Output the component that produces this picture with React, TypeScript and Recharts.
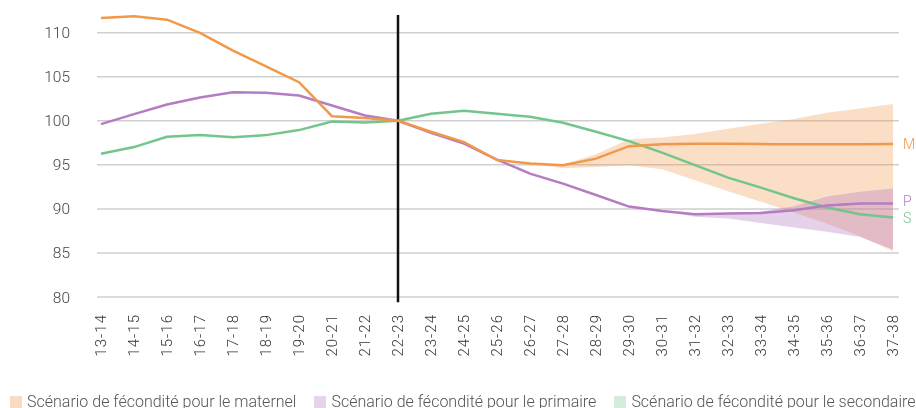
import React from "react";
import {
  ComposedChart,
  Line,
  Area,
  XAxis,
  YAxis,
  CartesianGrid,
  ReferenceLine,
} from "recharts";

// ---------------------------------------------------------------------------
// Data (indices base 100 en 22-23)
// ---------------------------------------------------------------------------

const years = [
  "13-14", "14-15", "15-16", "16-17", "17-18", "18-19", "19-20", "20-21",
  "21-22", "22-23", "23-24", "24-25", "25-26", "26-27", "27-28", "28-29",
  "29-30", "30-31", "31-32", "32-33", "33-34", "34-35", "35-36", "36-37",
  "37-38",
];

const maternel = [
  111.66, 111.85, 111.47, 109.97, 107.96, 106.18, 104.37, 100.52, 100.3, 100,
  98.75, 97.58, 95.54, 95.16, 94.94, 95.7, 97.12, 97.32, 97.38, 97.38, 97.35,
  97.32, 97.32, 97.32, 97.35,
];

const primaire = [
  99.62, 100.75, 101.85, 102.64, 103.24, 103.17, 102.87, 101.73, 100.6, 100,
  98.64, 97.4, 95.6, 94.0, 92.87, 91.57, 90.26, 89.76, 89.39, 89.47, 89.54,
  89.84, 90.37, 90.6, 90.6,
];

const secondaire = [
  96.26, 97.01, 98.19, 98.37, 98.14, 98.37, 98.94, 99.92, 99.8, 100, 100.79,
  101.13, 100.79, 100.45, 99.77, 98.75, 97.69, 96.38, 94.97, 93.54, 92.41,
  91.2, 90.15, 89.39, 89.01,
];

// scenario bands, starting at "26-27" for maternel and "30-31" for primaire
const maternelBandStart = 13;
const maternelLow = [95.16, 94.6, 94.75, 94.95, 94.5, 93.25, 92.0, 90.8, 89.6, 88.3, 86.9, 85.2];
const maternelHigh = [95.16, 95.0, 96.2, 97.9, 98.1, 98.5, 99.1, 99.65, 100.2, 100.9, 101.4, 101.9];

const primaireBandStart = 17;
const primaireLow = [89.76, 89.1, 88.9, 88.4, 87.9, 87.4, 86.8, 85.4];
const primaireHigh = [89.76, 89.45, 89.55, 89.7, 90.3, 91.4, 91.95, 92.3];

const yTicks = [80, 85, 90, 95, 100, 105, 110];

// ---------------------------------------------------------------------------
// Colors
// ---------------------------------------------------------------------------

const ORANGE = "#f0994a";
const PURPLE = "#b47cc2";
const GREEN = "#73c58e";

const FONT = "Roboto, sans-serif";

const data = years.map((year, i) => {
  const mi = i - maternelBandStart;
  const pi = i - primaireBandStart;
  return {
    year,
    maternel: maternel[i],
    primaire: primaire[i],
    secondaire: secondaire[i],
    mBand: mi >= 0 ? [maternelLow[mi], maternelHigh[mi]] : undefined,
    pBand: pi >= 0 ? [primaireLow[pi], primaireHigh[pi]] : undefined,
  };
});

const lastIndex = years.length - 1;

function XTick({ x, y, payload }: { x?: number; y?: number; payload?: { value: string } }) {
  return (
    <g transform={`translate(${x},${y})`}>
      <text
        transform="rotate(-90)"
        x={-11}
        y={0}
        dy="0.36em"
        textAnchor="end"
        fill="#333"
        fontSize={15}
        fontFamily={FONT}
        fontWeight={300}
        letterSpacing={1}
      >
        {payload?.value}
      </text>
    </g>
  );
}

function endLabel(letter: string, color: string, shift: number) {
  return (props: { x?: number; y?: number; index?: number }) => {
    if (props.index !== lastIndex) return <g />;
    return (
      <text
        x={(props.x ?? 0) + 10}
        y={(props.y ?? 0) + shift}
        dy="0.36em"
        fill={color}
        fontSize={14}
        fontFamily={FONT}
        fontWeight={300}
      >
        {letter}
      </text>
    );
  };
}

const legendItems = [
  { label: "Scénario de fécondité pour le maternel", color: "#f9dcc3" },
  { label: "Scénario de fécondité pour le primaire", color: "#e6d4ea" },
  { label: "Scénario de fécondité pour le secondaire", color: "#d5ecdc" },
];

export default function App() {
  return (
    <div
      style={{
        position: "fixed",
        left: 8,
        top: 8,
        width: 908,
        height: 400,
        overflow: "hidden",
        fontFamily: FONT,
      }}
    >
      <ComposedChart
        width={908}
        height={350}
        data={data}
        margin={{ top: 7, right: 17, bottom: 0, left: 0 }}
      >
        <CartesianGrid
          vertical={false}
          horizontalValues={yTicks}
          stroke="#cfcfcf"
          strokeWidth={1.5}
        />
        <XAxis
          dataKey="year"
          interval={0}
          height={61}
          axisLine={false}
          tickLine={false}
          tickMargin={0}
          padding={{ left: 4, right: 6 }}
          tick={<XTick />}
        />
        <YAxis
          domain={[80, 112]}
          ticks={yTicks}
          width={89}
          tickSize={0}
          tickMargin={27}
          axisLine={false}
          tickLine={false}
          tick={{ fill: "#444", fontSize: 15.5, fontFamily: FONT, fontWeight: 300 }}
        />
        <Area
          dataKey="mBand"
          stroke="none"
          fill={ORANGE}
          fillOpacity={0.32}
          isAnimationActive={false}
          connectNulls={false}
        />
        <Area
          dataKey="pBand"
          stroke="none"
          fill={PURPLE}
          fillOpacity={0.35}
          isAnimationActive={false}
          connectNulls={false}
        />
        <ReferenceLine
          segment={[
            { x: "22-23", y: 112 },
            { x: "22-23", y: 79.4 },
          ]}
          stroke="#111"
          strokeWidth={2.5}
          ifOverflow="visible"
        />
        <Line
          dataKey="secondaire"
          stroke={GREEN}
          strokeWidth={2.5}
          dot={false}
          isAnimationActive={false}
          label={endLabel("S", GREEN, 0)}
        />
        <Line
          dataKey="primaire"
          stroke={PURPLE}
          strokeWidth={2.5}
          dot={false}
          isAnimationActive={false}
          label={endLabel("P", PURPLE, -3)}
        />
        <Line
          dataKey="maternel"
          stroke={ORANGE}
          strokeWidth={2.5}
          dot={false}
          isAnimationActive={false}
          label={endLabel("M", ORANGE, 0)}
        />
      </ComposedChart>

      {/* Legend */}
      <div
        style={{
          display: "flex",
          gap: 18,
          marginTop: 35,
          paddingLeft: 2,
          fontSize: 16,
          fontWeight: 300,
          color: "#555",
          lineHeight: "18px",
          whiteSpace: "nowrap",
        }}
      >
        {legendItems.map((item) => (
          <div key={item.label} style={{ display: "flex", alignItems: "flex-start", gap: 5 }}>
            <span
              style={{
                display: "inline-block",
                width: 12,
                height: 12,
                marginTop: 3,
                backgroundColor: item.color,
              }}
            />
            <span>{item.label}</span>
          </div>
        ))}
      </div>
    </div>
  );
}
